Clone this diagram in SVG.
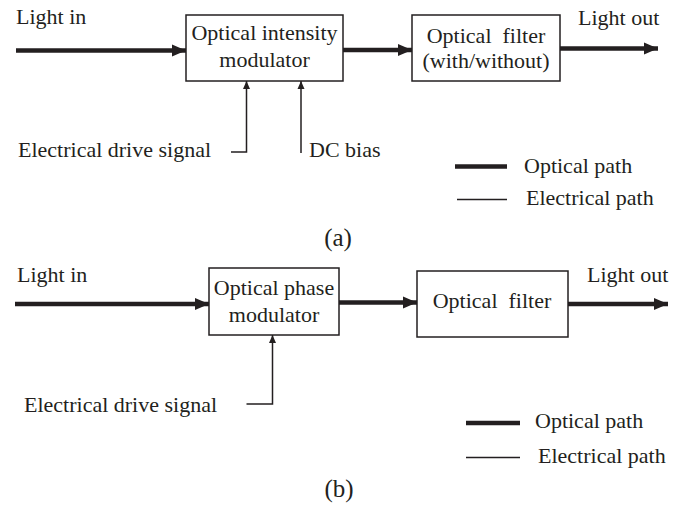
<svg xmlns="http://www.w3.org/2000/svg" width="684" height="507" viewBox="0 0 684 507">
<style>
text{font-family:"Liberation Serif","Times New Roman",serif;font-size:22px;fill:#231f20;white-space:pre}
.c{text-anchor:middle}
.cap{font-size:25px}
.box{fill:#fff;stroke:#231f20;stroke-width:1.5}
.opt{stroke:#231f20;stroke-width:4.5;fill:none}
.ele{stroke:#231f20;stroke-width:1.5;fill:none}
</style>
<defs>
<marker id="ah" markerUnits="userSpaceOnUse" markerWidth="15" markerHeight="15" refX="14" refY="7.5" orient="auto">
<path d="M0,1.5 L14,7.5 L0,13.5 Z" fill="#231f20"/>
</marker>
<marker id="as" markerUnits="userSpaceOnUse" markerWidth="8" markerHeight="9" refX="8" refY="4.5" orient="auto">
<path d="M0,1 L8,4.5 L0,8 Z" fill="#231f20"/>
</marker>
</defs>
<g id="connectors">
<line class="opt" x1="16" y1="50.5" x2="186" y2="50.5" marker-end="url(#ah)"/>
<line class="opt" x1="343" y1="50" x2="412" y2="50" marker-end="url(#ah)"/>
<line class="opt" x1="560" y1="48.5" x2="658" y2="48.5" marker-end="url(#ah)"/>
<polyline class="ele" points="231,152 246.5,152 246.5,81" marker-end="url(#as)"/>
<line class="ele" x1="301" y1="153" x2="301" y2="81" marker-end="url(#as)"/>
<line class="opt" x1="15" y1="304" x2="209" y2="304" marker-end="url(#ah)"/>
<line class="opt" x1="339" y1="302.5" x2="417" y2="302.5" marker-end="url(#ah)"/>
<line class="opt" x1="568" y1="304" x2="668" y2="304" marker-end="url(#ah)"/>
<polyline class="ele" points="246.5,404 272.5,404 272.5,335" marker-end="url(#as)"/>
</g>
<g id="modulator-a">
<rect class="box" x="186" y="15" width="157" height="66"/>
<text class="c" x="264.5" y="40">Optical intensity</text>
<text class="c" x="264.5" y="67">modulator</text>
</g>
<g id="filter-a">
<rect class="box" x="412" y="15" width="148" height="66"/>
<text class="c" x="486" y="43">Optical  filter</text>
<text class="c" x="486" y="68">(with/without)</text>
</g>
<g id="labels-a">
<text x="16" y="24">Light in</text>
<text x="578" y="25">Light out</text>
<text x="18" y="157">Electrical drive signal</text>
<text x="309" y="157">DC bias</text>
<text class="c cap" x="338" y="246">(a)</text>
</g>
<g id="legend-a">
<line class="opt" x1="455" y1="166.5" x2="507" y2="166.5"/>
<text x="524" y="173">Optical path</text>
<line class="ele" x1="457" y1="199.5" x2="507" y2="199.5"/>
<text x="526" y="205">Electrical path</text>
</g>
<g id="modulator-b">
<rect class="box" x="209" y="268" width="130" height="67"/>
<text class="c" x="274" y="295">Optical phase</text>
<text class="c" x="274" y="322">modulator</text>
</g>
<g id="filter-b">
<rect class="box" x="417" y="271" width="151" height="66"/>
<text class="c" x="492" y="308">Optical  filter</text>
</g>
<g id="labels-b">
<text x="17" y="282">Light in</text>
<text x="587" y="282">Light out</text>
<text x="24" y="412">Electrical drive signal</text>
<text class="c cap" x="339" y="497">(b)</text>
</g>
<g id="legend-b">
<line class="opt" x1="466" y1="423" x2="520" y2="423"/>
<text x="535" y="428">Optical path</text>
<line class="ele" x1="466" y1="457.5" x2="520" y2="457.5"/>
<text x="538" y="463">Electrical path</text>
</g>
</svg>
